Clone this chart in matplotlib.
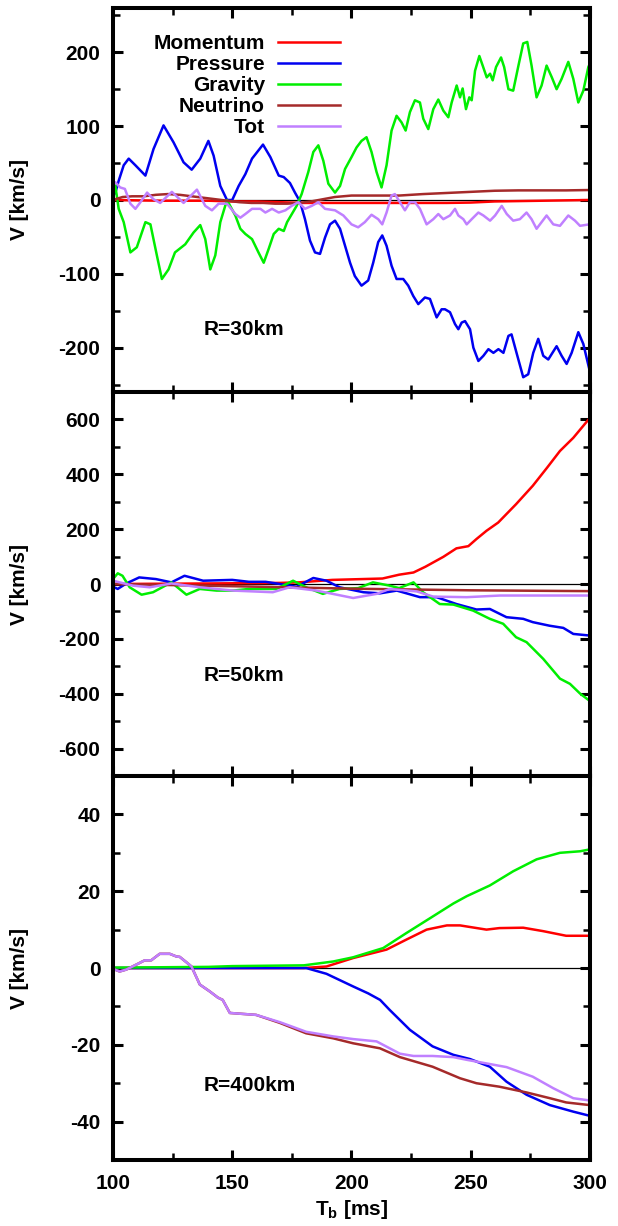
import numpy as np
import matplotlib.pyplot as plt
from matplotlib.ticker import MultipleLocator

plt.rcParams['font.family'] = 'Liberation Sans'
plt.rcParams['font.weight'] = 'bold'
plt.rcParams['axes.unicode_minus'] = False
plt.rcParams['mathtext.fontset'] = 'custom'
plt.rcParams['mathtext.bf'] = 'Liberation Sans:bold'
plt.rcParams['mathtext.rm'] = 'Liberation Sans:bold'

names = ['Momentum', 'Pressure', 'Gravity', 'Neutrino', 'Tot']
colors = ['#ff0000', '#0000f0', '#00ee00', '#a52a2a', '#c080ff']

# ---- R = 30 km ----
t30_mom = [100, 120, 140, 150, 160, 170, 180, 200, 220, 240, 250, 260, 270, 280, 290, 300]
v30_mom = [0, -1, -1, -2, -2, -3, -4, -4, -4, -4, -3.5, -2, -1.5, -1, -0.5, 0]

t30_pres = [100, 101, 102.4, 104.5, 106.6, 109.4, 113.6, 117, 121.2, 125.4, 129.6, 133, 136.6, 140,
            142.2, 145, 147.8, 150, 152.7, 155.5, 158.3, 162.9, 166, 169.5, 171.6, 174.2, 176.3,
            178.4, 180.5, 182.6, 184.7, 186.8, 188.9, 191, 193.1, 195.2, 197.3, 199.4, 201.4, 204.2,
            207, 209.1, 211.2, 212.9, 214.7, 216.8, 218.9, 221.7, 223.8, 225.9, 228, 230.8, 232.9,
            235.7, 237.8, 239.2, 241.3, 243.4, 244.8, 246.2, 247.6, 249.7, 251.1, 253.2, 255.3,
            257.4, 259.5, 261.6, 263.7, 265.8, 267.1, 269.2, 272, 274.1, 276.2, 278.3, 280.4, 282.5,
            286, 288.1, 290.2, 292.3, 295.1, 297.2, 299.7]
v30_pres = [5, 10, 26, 47, 56, 47, 33, 69, 101, 78, 51, 41, 56, 80,
            60, 19, 0, 0, 19, 35, 56, 75, 58, 33, 31, 23, 10,
            -2, -26, -55, -71, -73, -51, -33, -28, -39, -62, -85, -103, -116,
            -109, -85, -57, -48, -62, -89, -107, -107, -116, -130, -141, -132, -134,
            -159, -148, -148, -152, -168, -175, -166, -164, -175, -200, -218, -211,
            -202, -207, -202, -207, -184, -182, -207, -240, -236, -207, -188, -211, -216,
            -198, -211, -222, -207, -179, -195, -229]

t30_grav = [100, 101, 102.4, 104.5, 107.3, 110, 113.6, 115.7, 118.4, 120.5, 123.3, 126, 130.3,
            133.8, 136.6, 138.7, 140.8, 142.9, 145, 147.8, 151.3, 153.4, 155.5, 158.3, 161, 163.2,
            165.3, 167.4, 169.5, 171.6, 173, 175, 177, 179.1, 181.9, 184, 186.1, 188.2, 190.3,
            193.1, 195.2, 197.3, 200, 202.1, 204.2, 206.3, 208.4, 210.5, 212.6, 214.7, 216.8,
            218.9, 221, 222.7, 224.5, 226.6, 228.7, 230.1, 232.2, 234.3, 236.4, 238.5, 240.6, 242,
            244.1, 245.5, 246.6, 248, 249.4, 250.4, 251.8, 253.6, 255, 256.7, 258.1, 259.2, 260.6,
            262.7, 264, 265.8, 267.8, 270, 272, 273.7, 275.5, 277.6, 279.7, 281.8, 284, 286, 288.1,
            290.9, 293, 295.1, 297.2, 299.3, 300]
v30_grav = [22, 19, -12, -30, -71, -64, -30, -33, -75, -107, -94, -71, -60,
            -44, -34, -53, -94, -75, -30, 0, -21, -39, -46, -53, -71, -85,
            -66, -46, -39, -42, -30, -19, -8, 8, 38, 65, 74, 53, 22,
            10, 19, 42, 58, 71, 80, 85, 65, 38, 17, 47, 94,
            114, 105, 94, 119, 135, 132, 110, 96, 123, 136, 121, 112, 132,
            155, 139, 151, 123, 139, 135, 175, 195, 182, 166, 171, 162, 180,
            193, 180, 150, 148, 182, 212, 214, 182, 139, 155, 182, 166, 150, 164,
            187, 164, 132, 148, 180, 185]

t30_neut = [100, 104, 108, 113, 118, 123, 128, 133, 138, 143, 148, 153, 158, 163, 168, 173, 178,
            183, 188, 193, 200, 210, 220, 230, 240, 250, 260, 270, 280, 290, 300]
v30_neut = [0, 4, 5, 5, 7, 8, 7, 5, 3, 1, -1, -3, -4, -4, -5, -5, -4,
            -2, 1, 4, 6, 6, 6, 8, 9.5, 11, 12.5, 13, 13, 13, 13.5]

t30_tot = [100, 101, 103, 105, 107.3, 109.4, 111.5, 114.3, 117, 119.8, 124.7, 129.6, 135.2, 138.7,
           141.5, 144.3, 147.8, 151.3, 153.4, 155.5, 158.3, 161.8, 163.9, 166.7, 169.5, 172.3,
           174.9, 177.7, 180.5, 183.3, 186.1, 188.9, 193.1, 196.6, 200, 202.8, 205.6, 208.4,
           211.2, 212.9, 214.7, 216.8, 218.2, 220.3, 222.4, 224.5, 226.6, 228.7, 231.5, 234.3,
           236.4, 238.5, 241.3, 243.4, 244.8, 246.9, 248.3, 250.4, 253.2, 255.3, 258.1, 260.2,
           263, 265.1, 267.8, 270.6, 273.4, 275.5, 277.6, 279.7, 281.8, 284.6, 287.4, 290.9,
           293.7, 295.8, 299.7]
v30_tot = [22, 24, 17, 15, -5, -12, -3, 10, 1, -4, 11, -4, 14, -8,
           -14, -5, -5, -19, -24, -19, -12, -12, -17, -12, -17, -14,
           -8, -3, -12, -8, -3, -12, -14, -21, -33, -37, -30, -20,
           -26, -33, -17, 6, 8, -3, -14, -3, -3, -12, -33, -26,
           -19, -26, -21, -12, -21, -26, -33, -26, -17, -21, -28, -21,
           -8, -19, -28, -26, -17, -26, -39, -30, -21, -33, -35, -21,
           -28, -35, -33]

# ---- R = 50 km ----
t50_mom = [100, 140, 170, 178, 192, 213, 220, 226, 231, 238.5, 244, 249, 252.4, 256.6, 261.5, 269,
           276, 282, 287.4, 293, 300]
v50_mom = [0, 2, 4, 6, 15, 20, 34, 42, 63, 99, 130, 138, 164, 194, 224, 291, 358, 424, 485, 533, 606]

t50_pres = [100, 102, 105.6, 111, 118, 124.5, 130, 137.8, 150, 157, 164, 170, 177, 184, 189.5, 195,
            205, 212, 219, 228.7, 235.7, 244, 252.4, 258, 265, 272, 276, 283, 288.8, 293, 300]
v50_pres = [-10, -18, 2, 24, 18, 6, 30, 12, 15, 8, 8, 0, -10, 22, 12, -12,
            -30, -34, -24, -48, -48, -73, -93, -91, -121, -127, -139, -152, -160, -182, -188]

t50_grav = [100, 102, 104, 107, 112, 116.8, 124.5, 130.8, 136.4, 143.4, 150.3, 157, 168.5, 175.5,
            181, 188, 195, 202.8, 209, 216, 220, 226, 230, 237, 242.7, 251, 258, 263.6, 269, 273.4,
            280.4, 287.4, 291.6, 295.9, 300]
v50_grav = [18, 39, 30, -12, -39, -30, 6, -39, -18, -24, -24, -18, -18, 12,
            -12, -36, -18, -15, 6, -6, -15, 6, -30, -73, -75, -97, -127, -145, -194, -212,
            -273, -345, -364, -400, -427]

t50_neut = [100, 150, 200, 250, 300]
v50_neut = [0, -8, -17, -23, -26]

t50_tot = [100, 108.4, 115.4, 124.5, 136.4, 150.3, 167, 174, 185.3, 200.7, 210.5, 216, 227.3, 234.3,
           248.3, 262.3, 276.3, 300]
v50_tot = [12, -6, -12, 2, -12, -24, -30, -12, -24, -51, -36, -18, -27, -46, -48, -42, -42, -42]

# ---- R = 400 km ----
t400_mom = [100, 150, 180, 189.5, 200.7, 214.7, 223, 231.5, 240, 245.5, 256.6, 262, 272, 280.4, 290, 300]
v400_mom = [0, 0, 0, 0.4, 2.6, 4.8, 7.4, 10, 11.1, 11.1, 10, 10.4, 10.5, 9.6, 8.4, 8.4]

t400_pres = [100, 150, 181, 189.5, 200.7, 207, 212, 216, 224.5, 234, 242.7, 249.7, 258, 265, 273.4,
             283.2, 293, 300]
v400_pres = [0, 0, 0, -1.5, -4.8, -6.6, -8.3, -10.9, -16.1, -20.4, -22.6, -23.7, -25.7, -29.6, -33,
             -35.7, -37.4, -38.5]

t400_grav = [100, 140, 150, 180, 192.3, 200.7, 213.3, 223, 233, 242.7, 248.3, 258, 267.8, 277.6,
             287.4, 295.8, 300]
v400_grav = [0.1, 0.3, 0.5, 0.7, 1.7, 2.8, 5.2, 9.1, 13, 16.8, 18.7, 21.5, 25.2, 28.3, 30, 30.4, 30.9]

t400_neut = [100, 102.8, 105.6, 109.8, 113.3, 116, 119.6, 123.8, 126.6, 128, 130.8, 132.9, 136.4,
             140.6, 144, 146, 149, 160, 170, 181, 192.3, 200.7, 211.9, 220.3, 234, 245.5, 252.4,
             262, 273.4, 283.2, 290, 300]
v400_neut = [-0.2, -0.9, -0.4, 0.9, 2, 2, 3.7, 3.7, 3, 2.9, 1.5, 0.4, -4.3,
             -6.1, -7.7, -8.3, -11.7, -12.2, -14.3, -17, -18.3, -19.6, -20.9, -23.2, -25.7, -28.7, -30,
             -30.9, -32.4, -33.9, -35, -35.7]

t400_tot = [100, 102.8, 105.6, 109.8, 113.3, 116, 119.6, 123.8, 126.6, 128, 130.8, 132.9, 136.4,
            140.6, 144, 146, 149, 160, 170, 181, 192.3, 200.7, 210.5, 220.3, 226, 234, 242.7, 248.3,
            258, 265, 276, 284.6, 293, 300]
v400_tot = [-0.2, -0.9, -0.4, 0.9, 2, 2, 3.7, 3.7, 3, 2.9, 1.5, 0.4, -4.3,
            -6.1, -7.7, -8.3, -11.7, -12.2, -14.1, -16.6, -17.8, -18.5, -19.1, -22.3, -22.9, -22.9,
            -23.2, -23.9, -25, -25.8, -28.3, -31.3, -33.9, -34.5]

panels = [
    ('R=30km', [(t30_mom, v30_mom), (t30_pres, v30_pres), (t30_grav, v30_grav),
                (t30_neut, v30_neut), (t30_tot, v30_tot)], 260, 100, 50, 0.164),
    ('R=50km', [(t50_mom, v50_mom), (t50_pres, v50_pres), (t50_grav, v50_grav),
                (t50_neut, v50_neut), (t50_tot, v50_tot)], 700, 200, 100, 0.262),
    ('R=400km', [(t400_mom, v400_mom), (t400_pres, v400_pres), (t400_grav, v400_grav),
                 (t400_neut, v400_neut), (t400_tot, v400_tot)], 50, 20, 10, 0.195),
]

fig, axes = plt.subplots(3, 1, sharex=True, figsize=(6.18, 12.26), dpi=100,
                         gridspec_kw=dict(hspace=0))
fig.subplots_adjust(left=0.1828, right=0.9547, top=0.9935, bottom=0.0538)

for ax, (tag, series, lim, major, minor, ty) in zip(axes, panels):
    ax.axhline(0, color='black', lw=0.9, zorder=1)
    for (t, v), c, n in zip(series, colors, names):
        ax.plot(t, v, color=c, lw=1.8, label=n, zorder=2)
    ax.set_xlim(100, 300)
    ax.set_ylim(-lim, lim)
    ax.xaxis.set_major_locator(MultipleLocator(50))
    ax.xaxis.set_minor_locator(MultipleLocator(25))
    ax.yaxis.set_major_locator(MultipleLocator(major))
    ax.yaxis.set_minor_locator(MultipleLocator(minor))
    ax.tick_params(which='both', direction='in', top=True, right=True, labelsize=15)
    ax.tick_params(which='major', length=7, width=2.2)
    ax.tick_params(which='minor', length=5, width=1.8)
    ax.tick_params(axis='y', pad=9)
    ax.tick_params(axis='x', pad=10)
    for s in ax.spines.values():
        s.set_linewidth(2.9)
    ax.set_ylabel('V [km/s]', fontsize=15, fontweight='bold')
    ax.yaxis.set_label_coords(-0.175, 0.5)
    ax.text(0.189, ty, tag, transform=ax.transAxes, fontsize=15, fontweight='bold',
            ha='left', va='center')

axes[0].legend(loc='upper right', bbox_to_anchor=(0.476, 0.932), markerfirst=False, frameon=False,
               fontsize=15, handlelength=3.0, handletextpad=0.6, labelspacing=0.1,
               borderaxespad=0, borderpad=0)
axes[2].set_xlabel(r'$\mathbf{T_b}$ [ms]', fontsize=15, fontweight='bold', labelpad=4)

fig.savefig('out.png', dpi=100)
